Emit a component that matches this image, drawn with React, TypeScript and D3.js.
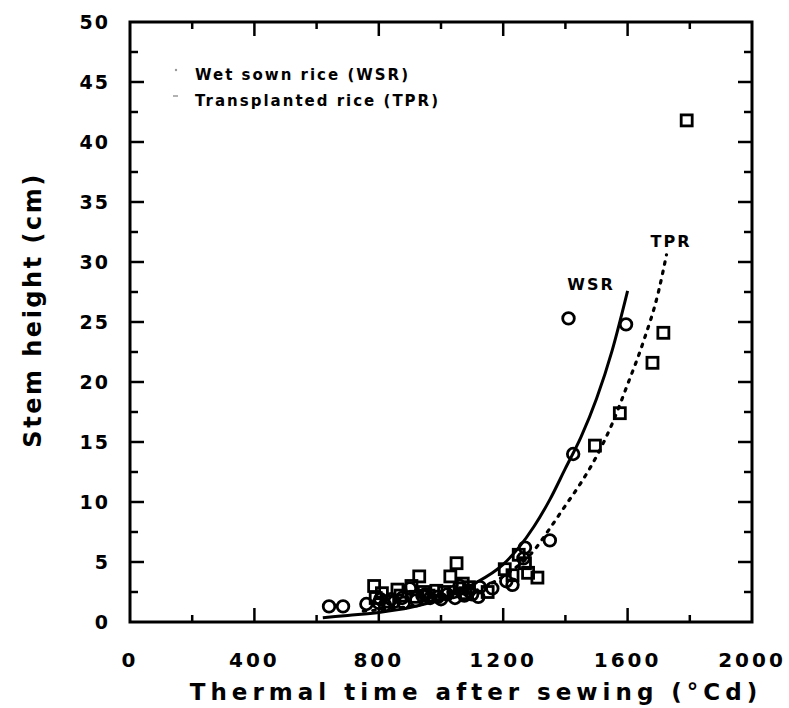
import React from "react";
import * as d3 from "d3";

// ---- data ----
const xTickValues = [0, 400, 800, 1200, 1600, 2000];
const yTickValues = [0, 5, 10, 15, 20, 25, 30, 35, 40, 45, 50];

// Wet sown rice observations (circles)
const wsrX = [640, 685, 760, 800, 805, 820, 840, 850, 875, 880, 900, 920, 940, 950, 965, 990, 1000, 1020, 1040, 1045, 1060, 1075, 1090, 1100, 1120, 1125, 1165, 1210, 1230, 1265, 1270, 1350, 1410, 1425, 1595];
const wsrY = [1.3, 1.3, 1.5, 1.6, 1.9, 1.4, 1.9, 1.7, 2.0, 1.6, 2.8, 1.8, 2.2, 2.3, 2.0, 2.1, 1.9, 2.3, 2.5, 2.0, 3.0, 2.2, 2.6, 2.3, 2.1, 2.9, 2.8, 3.4, 3.1, 5.3, 6.2, 6.8, 25.3, 14.0, 24.8];

// Transplanted rice observations (squares)
const tprX = [785, 790, 810, 830, 860, 870, 905, 920, 930, 945, 960, 985, 1010, 1030, 1050, 1060, 1070, 1080, 1090, 1150, 1205, 1230, 1250, 1270, 1280, 1310, 1495, 1575, 1680, 1715, 1790];
const tprY = [3.0, 2.0, 2.4, 1.7, 2.7, 2.2, 3.0, 2.1, 3.8, 2.5, 2.2, 2.6, 2.5, 3.8, 4.9, 2.8, 3.2, 2.4, 2.9, 2.5, 4.4, 3.9, 5.6, 4.9, 4.1, 3.7, 14.7, 17.4, 21.6, 24.1, 41.8];

// Fitted curves
const wsrCurveX = [620, 700, 800, 900, 1000, 1100, 1200, 1250, 1300, 1350, 1400, 1450, 1500, 1550, 1600];
const wsrCurveY = [0.35, 0.55, 0.8, 1.2, 1.9, 3.1, 4.8, 6.2, 8.0, 10.2, 12.8, 15.4, 18.6, 22.6, 27.6];
const tprCurveX = [750, 900, 1000, 1100, 1200, 1300, 1350, 1400, 1450, 1500, 1550, 1600, 1650, 1700, 1725];
const tprCurveY = [0.9, 1.3, 1.8, 2.5, 3.8, 6.0, 7.8, 9.7, 11.6, 13.8, 16.5, 19.8, 23.3, 27.6, 30.6];

const legendLabels = ["Wet sown rice (WSR)", "Transplanted rice (TPR)"];
const curveLabels = ["WSR", "TPR"];
const xTitle = "Thermal time after sewing (°Cd)";
const yTitle = "Stem height (cm)";

const W = 789;
const H = 708;
const L = 130, R = 752, T = 22, B = 622;
const FONT = "'DejaVu Sans', sans-serif";

export default function App() {
  const x = d3.scaleLinear().domain([0, 2000]).range([L, R]);
  const y = d3.scaleLinear().domain([0, 50]).range([B, T]);

  const line = d3
    .line<[number, number]>()
    .x((d) => x(d[0]))
    .y((d) => y(d[1]))
    .curve(d3.curveMonotoneX);

  const wsrPath = line(wsrCurveX.map((v, i) => [v, wsrCurveY[i]]) as [number, number][]) || "";
  const tprPath = line(tprCurveX.map((v, i) => [v, tprCurveY[i]]) as [number, number][]) || "";

  const xMinor = d3.range(0, 2001, 200);
  const yMinor = d3.range(0, 50.01, 2.5);

  const ticks: JSX.Element[] = [];
  xMinor.forEach((v, i) => {
    if (v === 0 || v === 2000) return;
    const len = v % 400 === 0 ? 14 : 7;
    ticks.push(<line key={"xb" + i} x1={x(v)} x2={x(v)} y1={B} y2={B - len} />);
    ticks.push(<line key={"xt" + i} x1={x(v)} x2={x(v)} y1={T} y2={T + len} />);
  });
  yMinor.forEach((v, i) => {
    if (v === 0 || v === 50) return;
    const len = v % 5 === 0 ? 14 : 8;
    ticks.push(<line key={"yl" + i} x1={L} x2={L + len} y1={y(v)} y2={y(v)} />);
    ticks.push(<line key={"yr" + i} x1={R} x2={R - len} y1={y(v)} y2={y(v)} />);
  });

  return (
    <svg
      width={W}
      height={H}
      viewBox={`0 0 ${W} ${H}`}
      style={{ position: "absolute", left: 0, top: 0, background: "#fff" }}
      fontFamily={FONT}
    >
      <rect x={0} y={0} width={W} height={H} fill="#fff" />
      {/* frame */}
      <rect x={L} y={T} width={R - L} height={B - T} fill="none" stroke="#000" strokeWidth={3} />
      <g stroke="#000" strokeWidth={2.5}>{ticks}</g>

      {/* tick labels */}
      <g fontSize={20} fontWeight="bold" fill="#000" textAnchor="middle">
        {xTickValues.map((v) => (
          <text key={"xl" + v} x={x(v)} y={B + 45} letterSpacing={3}>
            {v}
          </text>
        ))}
      </g>
      <g fontSize={19} fontWeight="bold" fill="#000" textAnchor="end">
        {yTickValues.map((v) => (
          <text key={"yl" + v} x={L - 20} y={y(v) + 7} letterSpacing={2}>
            {v}
          </text>
        ))}
      </g>

      {/* axis titles */}
      <text x={476} y={B + 78} textAnchor="middle" fontSize={23} fontWeight="bold" letterSpacing={5}>
        {xTitle}
      </text>
      <text
        transform={`translate(41, 310) rotate(-90)`}
        textAnchor="middle"
        fontSize={24}
        fontWeight="bold"
        letterSpacing={2.5}
      >
        {yTitle}
      </text>

      {/* fitted curves */}
      <path d={wsrPath} fill="none" stroke="#000" strokeWidth={3} />
      <path d={tprPath} fill="none" stroke="#000" strokeWidth={3.2} strokeDasharray="2.5 7" strokeLinecap="round" />

      {/* observations */}
      <g fill="none" stroke="#000" strokeWidth={2.8}>
        {wsrX.map((v, i) => (
          <circle key={"c" + i} cx={x(v)} cy={y(wsrY[i])} r={5.8} />
        ))}
        {tprX.map((v, i) => (
          <rect key={"s" + i} x={x(v) - 5.5} y={y(tprY[i]) - 5.5} width={11} height={11} />
        ))}
      </g>

      {/* curve labels */}
      <g fontSize={16} fontWeight="bold" letterSpacing={2} textAnchor="middle">
        <text x={591} y={290}>{curveLabels[0]}</text>
        <text x={671} y={247}>{curveLabels[1]}</text>
      </g>

      {/* legend */}
      <g fontSize={15} fontWeight="bold" letterSpacing={2}>
        <circle cx={176} cy={70} r={1.2} fill="#999" />
        <line x1={173} x2={178} y1={96} y2={96} stroke="#999" strokeWidth={1.5} />
        <text x={195} y={80}>{legendLabels[0]}</text>
        <text x={195} y={106}>{legendLabels[1]}</text>
      </g>
    </svg>
  );
}
